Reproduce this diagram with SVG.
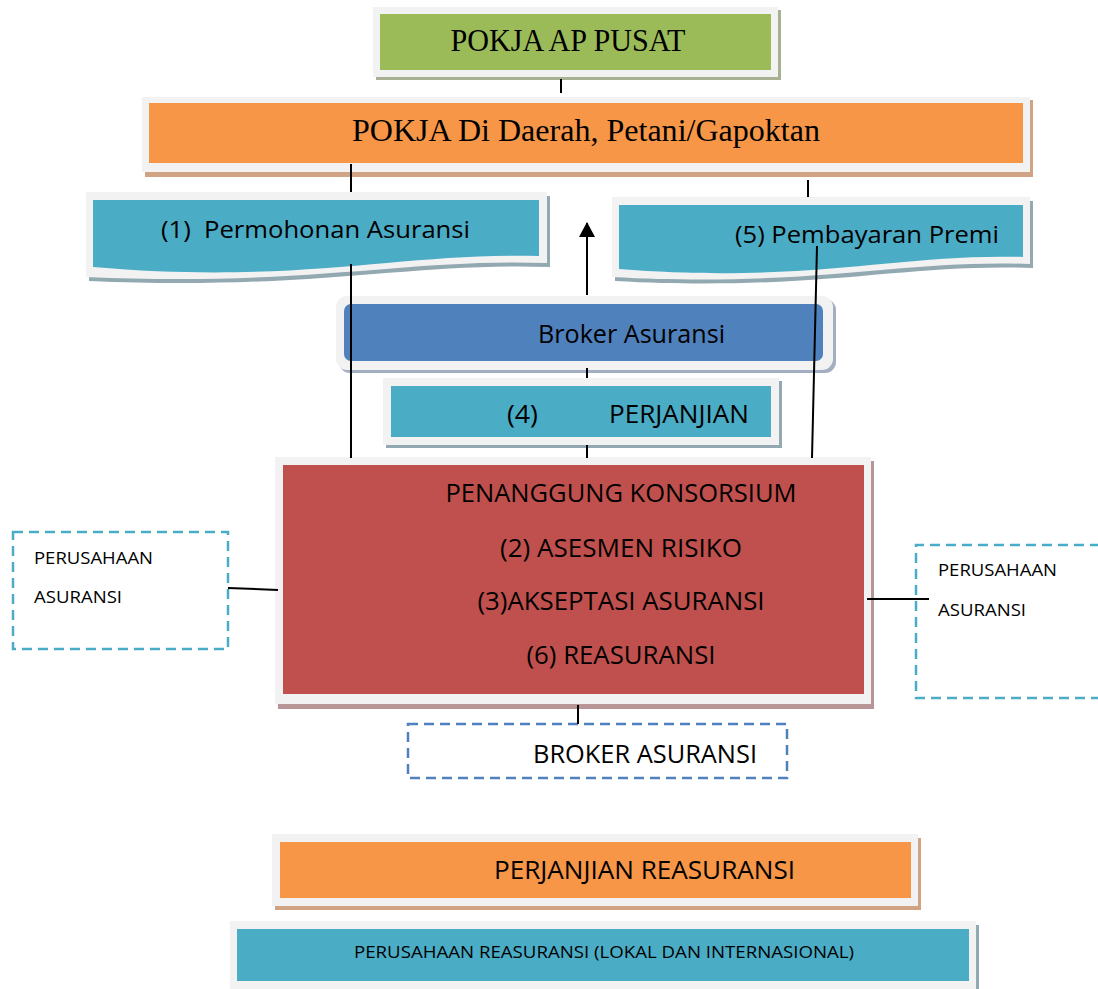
<svg xmlns="http://www.w3.org/2000/svg" width="1098" height="989" viewBox="0 0 1098 989">
<style>
.frame{fill:#f2f2f2}
.serif{font-family:"Liberation Serif","Times New Roman",serif;fill:#000}
.sans{font-family:"Open Sans","Liberation Sans",Arial,sans-serif;fill:#000;white-space:pre}
.conn{stroke:#000;stroke-width:2;fill:none}
.dash-teal{fill:none;stroke:#4bacc6;stroke-width:2.5;stroke-dasharray:10 6}
.dash-blue{fill:none;stroke:#4f81bd;stroke-width:2.5;stroke-dasharray:10 6}
</style>
<defs>
<marker id="arrow" viewBox="0 0 15 16" refX="14" refY="8" markerWidth="15" markerHeight="16" markerUnits="userSpaceOnUse" orient="auto">
<path d="M0,0 L15,8 L0,16 Z" fill="#000"/>
</marker>
</defs>
<rect width="1098" height="989" fill="#fff"/>

<g id="pokja-pusat">
<rect x="376" y="10" width="405" height="70" fill="#a8b093"/>
<rect class="frame" x="373" y="7" width="405" height="70"/>
<rect x="380" y="14" width="391" height="56" fill="#9bbb59"/>
<text class="serif" x="568" y="51" font-size="32" text-anchor="middle" textLength="235" lengthAdjust="spacingAndGlyphs">POKJA AP PUSAT</text>
</g>

<g id="pokja-daerah">
<rect x="145" y="100" width="888" height="77" fill="#cfa383"/>
<rect class="frame" x="142" y="97" width="888" height="75"/>
<rect x="149" y="103" width="874" height="60" fill="#f79646"/>
<text class="serif" x="586" y="141" font-size="31" text-anchor="middle" textLength="468" lengthAdjust="spacingAndGlyphs">POKJA Di Daerah, Petani/Gapoktan</text>
</g>

<g id="permohonan">
<path d="M89,196 H550 V267 C410,262 310,291 89,281 Z" fill="#93a9b1"/>
<path class="frame" d="M86,192 H547 V263 C407,258 307,287 86,277 Z"/>
<path d="M93,200 H539 V256 C400,252 300,285 93,267 Z" fill="#4bacc6"/>
<text class="sans" x="161" y="238" font-size="24" textLength="309" lengthAdjust="spacingAndGlyphs" xml:space="preserve">(1)  Permohonan Asuransi</text>
</g>

<g id="pembayaran">
<path d="M615,201 H1033 V268 C905,263 815,292 615,281 Z" fill="#93a9b1"/>
<path class="frame" d="M612,197 H1030 V264 C902,259 812,288 612,277 Z"/>
<path d="M619,205 H1023 V257 C900,253 810,284 619,269 Z" fill="#4bacc6"/>
<text class="sans" x="735" y="243" font-size="24" textLength="264" lengthAdjust="spacingAndGlyphs">(5) Pembayaran Premi</text>
</g>

<g id="broker">
<rect x="339" y="299" width="497" height="74" rx="11" fill="#a3aec0"/>
<rect class="frame" x="336" y="296" width="497" height="74" rx="11"/>
<rect x="344" y="304" width="479" height="57" rx="7" fill="#4f81bd"/>
<text class="sans" x="538" y="343" font-size="25" textLength="187" lengthAdjust="spacingAndGlyphs">Broker Asuransi</text>
</g>

<g id="perjanjian">
<rect x="386" y="381" width="396" height="67" fill="#93a9b1"/>
<rect class="frame" x="383" y="378" width="396" height="67"/>
<rect x="391" y="386" width="380" height="51" fill="#4bacc6"/>
<text class="sans" x="507" y="423" font-size="25" textLength="31" lengthAdjust="spacingAndGlyphs">(4)</text>
<text class="sans" x="609" y="423" font-size="25" textLength="140" lengthAdjust="spacingAndGlyphs">PERJANJIAN</text>
</g>

<g id="penanggung">
<rect x="278" y="461" width="596" height="248" fill="#b99696"/>
<rect class="frame" x="275" y="457" width="596" height="247"/>
<rect x="283" y="465" width="581" height="229" fill="#c0504d"/>
<text class="sans" x="621" y="502" font-size="25" text-anchor="middle" textLength="351" lengthAdjust="spacingAndGlyphs">PENANGGUNG KONSORSIUM</text>
<text class="sans" x="621" y="557" font-size="25" text-anchor="middle" textLength="242" lengthAdjust="spacingAndGlyphs">(2) ASESMEN RISIKO</text>
<text class="sans" x="621" y="610" font-size="25" text-anchor="middle" textLength="287" lengthAdjust="spacingAndGlyphs">(3)AKSEPTASI ASURANSI</text>
<text class="sans" x="621" y="664" font-size="25" text-anchor="middle" textLength="189" lengthAdjust="spacingAndGlyphs">(6) REASURANSI</text>
</g>

<g id="perusahaan-kiri">
<rect class="dash-teal" x="13" y="532" width="215" height="117"/>
<text class="sans" x="34" y="564" font-size="16" textLength="119" lengthAdjust="spacingAndGlyphs">PERUSAHAAN</text>
<text class="sans" x="34" y="603" font-size="16" textLength="88" lengthAdjust="spacingAndGlyphs">ASURANSI</text>
</g>

<g id="perusahaan-kanan">
<path class="dash-teal" d="M1100,545 H916 V698 H1100"/>
<text class="sans" x="938" y="576" font-size="16" textLength="119" lengthAdjust="spacingAndGlyphs">PERUSAHAAN</text>
<text class="sans" x="938" y="616" font-size="16" textLength="88" lengthAdjust="spacingAndGlyphs">ASURANSI</text>
</g>

<g id="broker-asuransi">
<rect class="dash-blue" x="408" y="724" width="379" height="54"/>
<text class="sans" x="533" y="763" font-size="25" textLength="224" lengthAdjust="spacingAndGlyphs">BROKER ASURANSI</text>
</g>

<g id="perjanjian-reasuransi">
<rect x="275" y="838" width="646" height="72" fill="#cfa383"/>
<rect class="frame" x="272" y="834" width="646" height="72"/>
<rect x="280" y="842" width="631" height="56" fill="#f79646"/>
<text class="sans" x="494" y="879" font-size="25" textLength="301" lengthAdjust="spacingAndGlyphs">PERJANJIAN REASURANSI</text>
</g>

<g id="perusahaan-reasuransi">
<rect x="233" y="925" width="746" height="68" fill="#93a9b1"/>
<rect class="frame" x="230" y="921" width="746" height="68"/>
<rect x="237" y="929" width="732" height="52" fill="#4bacc6"/>
<text class="sans" x="354" y="958" font-size="16" textLength="500" lengthAdjust="spacingAndGlyphs">PERUSAHAAN REASURANSI (LOKAL DAN INTERNASIONAL)</text>
</g>

<g id="connectors">
<line class="conn" x1="561" y1="79" x2="561" y2="93"/>
<line class="conn" x1="351" y1="164" x2="351" y2="192"/>
<line class="conn" x1="808" y1="180" x2="808" y2="197"/>
<line class="conn" x1="351" y1="264" x2="351" y2="458"/>
<line class="conn" x1="817" y1="246" x2="812" y2="458"/>
<line class="conn" x1="587" y1="295" x2="587" y2="223" marker-end="url(#arrow)"/>
<line class="conn" x1="587" y1="368" x2="587" y2="378"/>
<line class="conn" x1="587" y1="445" x2="587" y2="458"/>
<line class="conn" x1="228" y1="588" x2="278" y2="590"/>
<line class="conn" x1="867" y1="599" x2="929" y2="599"/>
<line class="conn" x1="578" y1="705" x2="578" y2="724"/>
</g>
</svg>
